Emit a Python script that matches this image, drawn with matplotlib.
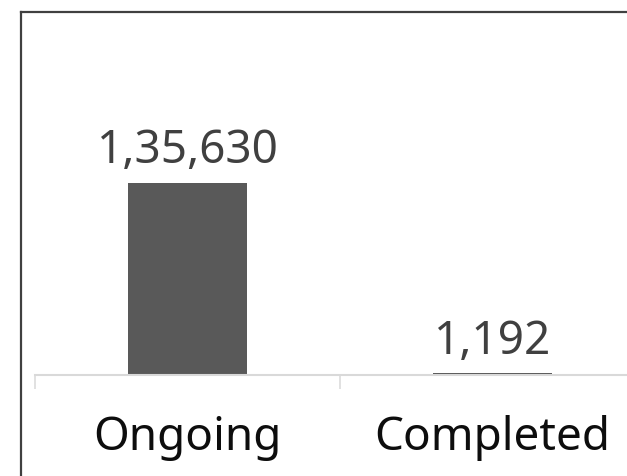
import matplotlib
matplotlib.use("Agg")
import matplotlib.pyplot as plt
from matplotlib.lines import Line2D

# Case status counts
categories = ["Ongoing", "Completed"]
counts = [135630, 1192]
count_labels = ["1,35,630", "1,192"]

plt.rcParams['font.family'] = ['Noto Sans', 'DejaVu Sans']

W, H = 627, 477
fig = plt.figure(figsize=(W / 100, H / 100), dpi=100)

# axes run from the first category boundary out past the right edge
ax_left, ax_right = 35, 645
ax_bottom, ax_top = 376, 12
ax = fig.add_axes([ax_left / W, (H - ax_bottom) / H,
                   (ax_right - ax_left) / W, (ax_bottom - ax_top) / H])

x = list(range(len(categories)))
ax.bar(x, counts, width=0.387, color='#595959')

ax.set_xlim(-0.5, len(categories) - 0.5)
ax.set_ylim(0, counts[0] * (ax_bottom - ax_top) / 192)

for xi, val, lab in zip(x, counts, count_labels):
    ax.annotate(lab, (xi, val), xytext=(0, 7), textcoords='offset points',
                ha='center', va='bottom', fontsize=33, color='#404040')

for side in ['left', 'right', 'top']:
    ax.spines[side].set_visible(False)
ax.spines['bottom'].set_color('#d9d9d9')
ax.spines['bottom'].set_linewidth(1.5)

ax.set_yticks([])
ax.set_xticks(x)
ax.set_xticklabels(categories, fontsize=33, color='#0d0d0d')
ax.tick_params(axis='x', which='major', length=0, pad=28)
ax.set_xticks([i - 0.5 for i in range(len(categories) + 1)], minor=True)
ax.tick_params(axis='x', which='minor', length=10, width=1.1, color='#d9d9d9')

# outer frame on the left and top
fig.add_artist(Line2D([20.5 / W, 20.5 / W], [0, (H - 12.5) / H],
                      color='#404040', linewidth=1.6))
fig.add_artist(Line2D([20.5 / W, 1], [(H - 12.5) / H, (H - 12.5) / H],
                      color='#404040', linewidth=1.6))

fig.savefig("out.png", dpi=100)
